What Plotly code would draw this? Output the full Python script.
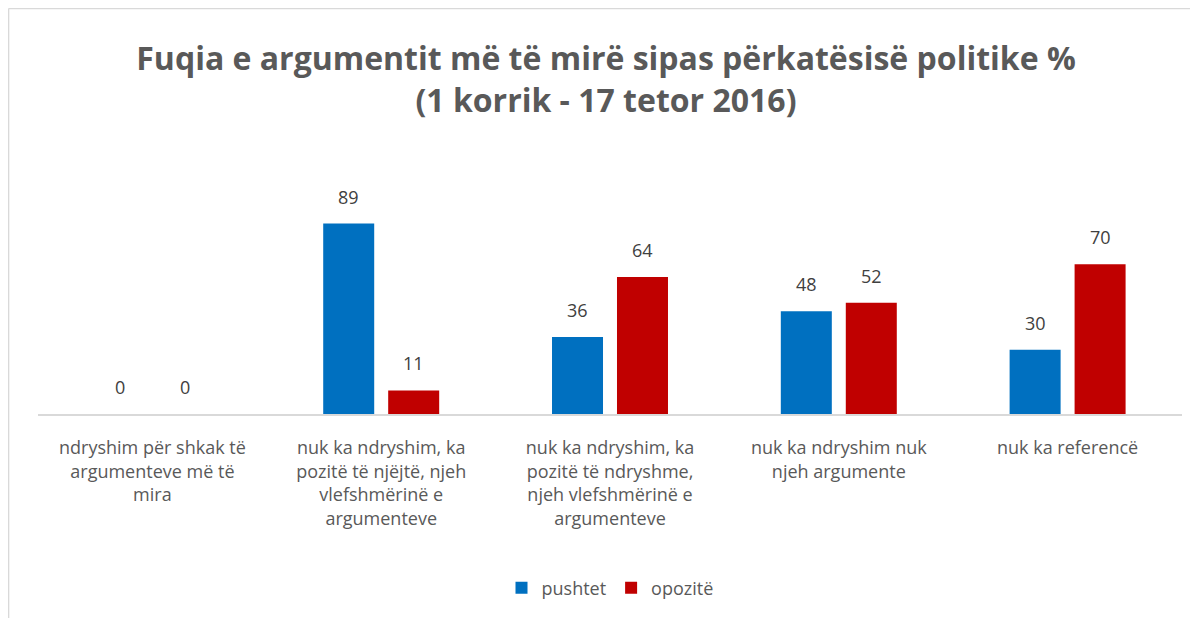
import plotly.graph_objects as go

categories = [
    "ndryshim për shkak të<br>argumenteve më të<br>mira",
    "nuk ka ndryshim, ka<br>pozitë të njëjtë, njeh<br>vlefshmërinë e<br>argumenteve",
    "nuk ka ndryshim, ka<br>pozitë të ndryshme,<br>njeh vlefshmërinë e<br>argumenteve",
    "nuk ka ndryshim nuk<br>njeh argumente",
    "nuk ka referencë",
]
pushtet = [0, 89, 36, 48, 30]
opozite = [0, 11, 64, 52, 70]
series_names = ["pushtet", "opozitë"]
colors = ["#0070C0", "#C00000"]

FONT = "Open Sans"
W, H = 1190, 610
L, R, T, B = 30, 16, 192, 204
PH = H - T - B

fig = go.Figure()
for name, vals, col in zip(series_names, [pushtet, opozite], colors):
    fig.add_trace(go.Bar(name=name, x=categories, y=vals, marker_color=col,
                         marker_line_width=0))

# data labels above the bars
offsets = [-0.142, 0.142]
for vals, off in zip([pushtet, opozite], offsets):
    for i, v in enumerate(vals):
        fig.add_annotation(x=i + off, y=v, xref="x", yref="y", text=str(v),
                           showarrow=False, yanchor="bottom", yshift=13,
                           font=dict(family=FONT, size=18, color="#404040"))

# chart area border (top and left visible)
bx = -L / (W - L - R) + 0.0005
by = (PH + T) / PH - 0.002
fig.add_shape(type="line", xref="paper", yref="paper", x0=bx, x1=1.2, y0=by, y1=by,
              line=dict(color="#D9D9D9", width=1.5))
fig.add_shape(type="line", xref="paper", yref="paper", x0=bx, x1=bx, y0=by, y1=-1.2,
              line=dict(color="#D9D9D9", width=1.5))

fig.update_layout(
    width=W, height=H,
    margin=dict(l=L, r=R, t=T, b=B),
    paper_bgcolor="white", plot_bgcolor="white",
    barmode="group", bargap=0.432, bargroupgap=0.215,
    title=dict(text="Fuqia e argumentit më të mirë sipas përkatësisë politike %<br>(1 korrik - 17 tetor 2016)",
               x=598 / W, xanchor="center", y=1 - 62 / H, yanchor="middle",
               font=dict(family=FONT, size=32, color="#595959", weight="bold")),
    xaxis=dict(showline=True, linecolor="#D9D9D9", linewidth=1.5, ticks="",
               ticklabelstandoff=17,
               tickfont=dict(family=FONT, size=18, color="#595959"), showgrid=False),
    yaxis=dict(range=[0, 100], visible=False),
    legend=dict(orientation="h", x=0.5, xanchor="center", y=-(580 - T - PH) / PH, yanchor="middle",
                font=dict(family=FONT, size=18, color="#595959")),
    font=dict(family=FONT),
)

fig.write_html("out.html")
